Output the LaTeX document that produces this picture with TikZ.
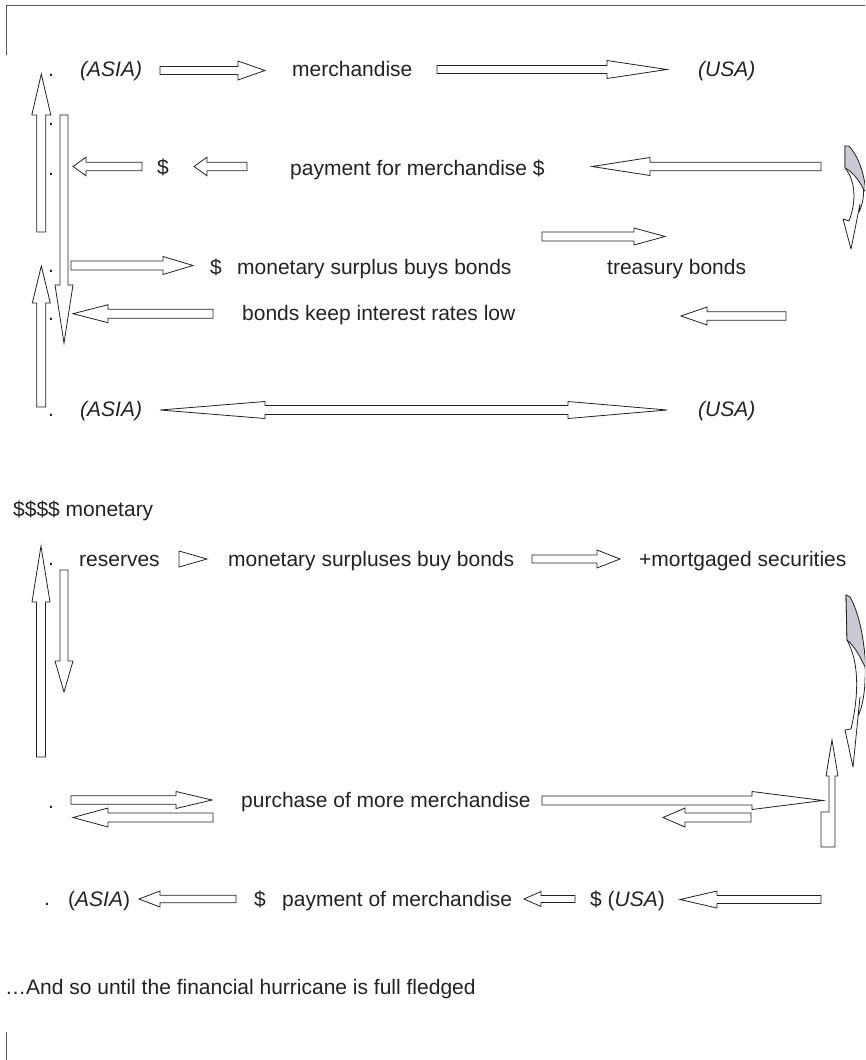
\documentclass[tikz,border=0pt]{standalone}
\usepackage{fontspec}
\setmainfont{Liberation Sans}
\definecolor{ink}{HTML}{222222}
\definecolor{frame}{HTML}{555555}
\definecolor{shade}{HTML}{C9CAD3}
\newcommand{\harr}[6]{\draw[blk] (#1,#4-#5) -- (#2,#4-#5) -- (#2,#4-#6) -- (#3,#4) -- (#2,#4+#6) -- (#2,#4+#5) -- (#1,#4+#5) -- cycle;}
\newcommand{\varr}[6]{\draw[blk] (#4-#5,#1) -- (#4-#5,#2) -- (#4-#6,#2) -- (#4,#3) -- (#4+#6,#2) -- (#4+#5,#2) -- (#4+#5,#1) -- cycle;}
\begin{document}
\begin{tikzpicture}[x=1pt,y=-1pt,
  txt/.style={anchor=base west, inner sep=0pt, text=ink, font=\fontsize{21}{25}\selectfont},
  blk/.style={draw=ink, line width=0.8pt, fill=white, line join=miter},
  curv/.style={draw=ink, line width=0.8pt, line join=round}]
\useasboundingbox (0,0) rectangle (865,1060);
\begin{scope}
\clip (0,0) rectangle (865,1060);
% frame lines
\draw[frame, line width=1pt] (6,55) -- (6,5) -- (866,5);
\draw[frame, line width=1pt] (6,1032) -- (6,1061);

% ---------- top section ----------
\node[txt] (d1) at (48,76) {.};
\node[txt] (d2) at (48,125) {.};
\node[txt] (d3) at (48,175) {.};
\node[txt] (d4) at (48,272) {.};
\node[txt] (d5) at (48,320) {.};
\node[txt] (d6) at (48,416) {.};

\node[txt] (asia1) at (80,76) {\itshape (ASIA)};
\node[txt] (merch1) at (292,76) {merchandise};
\node[txt] (usa1) at (698,76) {\itshape (USA)};
\harr{160}{238}{265}{70.5}{4}{9.5}
\harr{437}{607}{667}{69.5}{4}{9}

\node[txt] (dol1) at (157,174) {\$};
\node[txt] (pay1) at (290,175) {payment for merchandise \$};
\harr{142}{86}{73}{166.5}{4.3}{9.3}
\harr{247}{207}{194}{166.5}{4.3}{9.3}
\harr{821}{650}{592}{166.5}{4.3}{9}

\node[txt] (dol2) at (210,274) {\$};
\node[txt] (surp) at (237,274) {monetary surplus buys bonds};
\node[txt] (treas) at (607,274) {treasury bonds};
\harr{71}{163}{193}{265.5}{4.5}{9}
\harr{542}{634}{665}{236.5}{4.5}{8.5}

\node[txt] (keep) at (242,320) {bonds keep interest rates low};
\harr{213}{108}{73}{313.7}{4.5}{9}
\harr{786}{707}{681}{316}{4.2}{9}

% vertical arrows top
\varr{232}{115}{74}{41.3}{4.5}{9.5}
\varr{115}{285}{343}{64}{4}{9}
\varr{407}{303}{266}{41.3}{4.5}{9}

\node[txt] (asia2) at (80,416) {\itshape (ASIA)};
\node[txt] (usa2) at (698,416) {\itshape (USA)};
\draw[blk] (160,410) -- (265,401.5) -- (265,405.5) -- (568,405.5) -- (568,401.5) -- (667,410)
  -- (568,418.5) -- (568,414.5) -- (265,414.5) -- (265,418.5) -- cycle;

% top curved arrow
\draw[curv, fill=white] (845,146) .. controls (862,160) and (869,192) .. (859,212)
  -- (860,204) -- (851,249) -- (843,219) -- (849,221)
  .. controls (857,200) and (855,180) .. (845,168) -- cycle;
\draw[curv, fill=shade] (845,146) -- (849,146) .. controls (858,156) and (864,172) .. (866,192)
  -- (864,190) .. controls (858,178) and (851,171) .. (845,168) -- cycle;

% ---------- bottom section ----------
\node[txt] (mon) at (13,516) {\$\$\$\$ monetary};

\node[txt] (d7) at (48,565) {.};
\node[txt] (res) at (79,566) {reserves};
\draw[blk] (179,551) -- (207,559) -- (179,567) -- cycle;
\node[txt] (surp2) at (228,566) {monetary surpluses buy bonds};
\harr{532}{597}{620}{559}{4}{9}
\node[txt] (mort) at (639,566) {+mortgaged securities};

\varr{757}{602}{546}{41}{4.5}{9}
\varr{570}{661}{692}{64}{4}{9}

% bottom curved arrow
\draw[curv, fill=white] (846,595) .. controls (866,620) and (871,690) .. (858,716)
  -- (860,697) -- (853,767) -- (845,730) -- (851,729)
  .. controls (860,690) and (858,660) .. (847,640) -- cycle;
\draw[curv, fill=shade] (846,595) -- (850,597) .. controls (860,615) and (864,640) .. (866,668)
  -- (863,663) .. controls (858,652) and (852,644) .. (847,640) -- cycle;

\node[txt] (d8) at (48,808) {.};
\harr{71}{176}{212}{800}{4.3}{8.5}
\harr{213}{108}{73}{817.5}{4.5}{9.5}
\node[txt] (purch) at (241,807) {purchase of more merchandise};
\harr{542}{752}{823}{800.5}{4.5}{9}
\harr{751}{685}{663}{817.5}{4.5}{9.5}
\draw[blk] (832,740) -- (838,776) -- (835,776) -- (835,847) -- (821,847) -- (821,812)
  -- (829,812) -- (829,776) -- (826,776) -- cycle;

\node[txt] (d9) at (44,905) {.};
\node[txt] (asia3) at (68,906) {(\textit{ASIA})};
\harr{236}{160}{139}{899}{3.8}{8}
\node[txt] (dol3) at (254,906) {\$};
\node[txt] (pay2) at (282,906) {payment of merchandise};
\harr{575}{541}{524}{899}{3.5}{7.5}
\node[txt] (usa3) at (590,906) {\$ (\textit{USA})};
\harr{821}{717}{680}{899.5}{4}{8.5}

\node[txt] (end) at (5,994) {…And so until the financial hurricane is full fledged};
\end{scope}
\end{tikzpicture}
\end{document}
